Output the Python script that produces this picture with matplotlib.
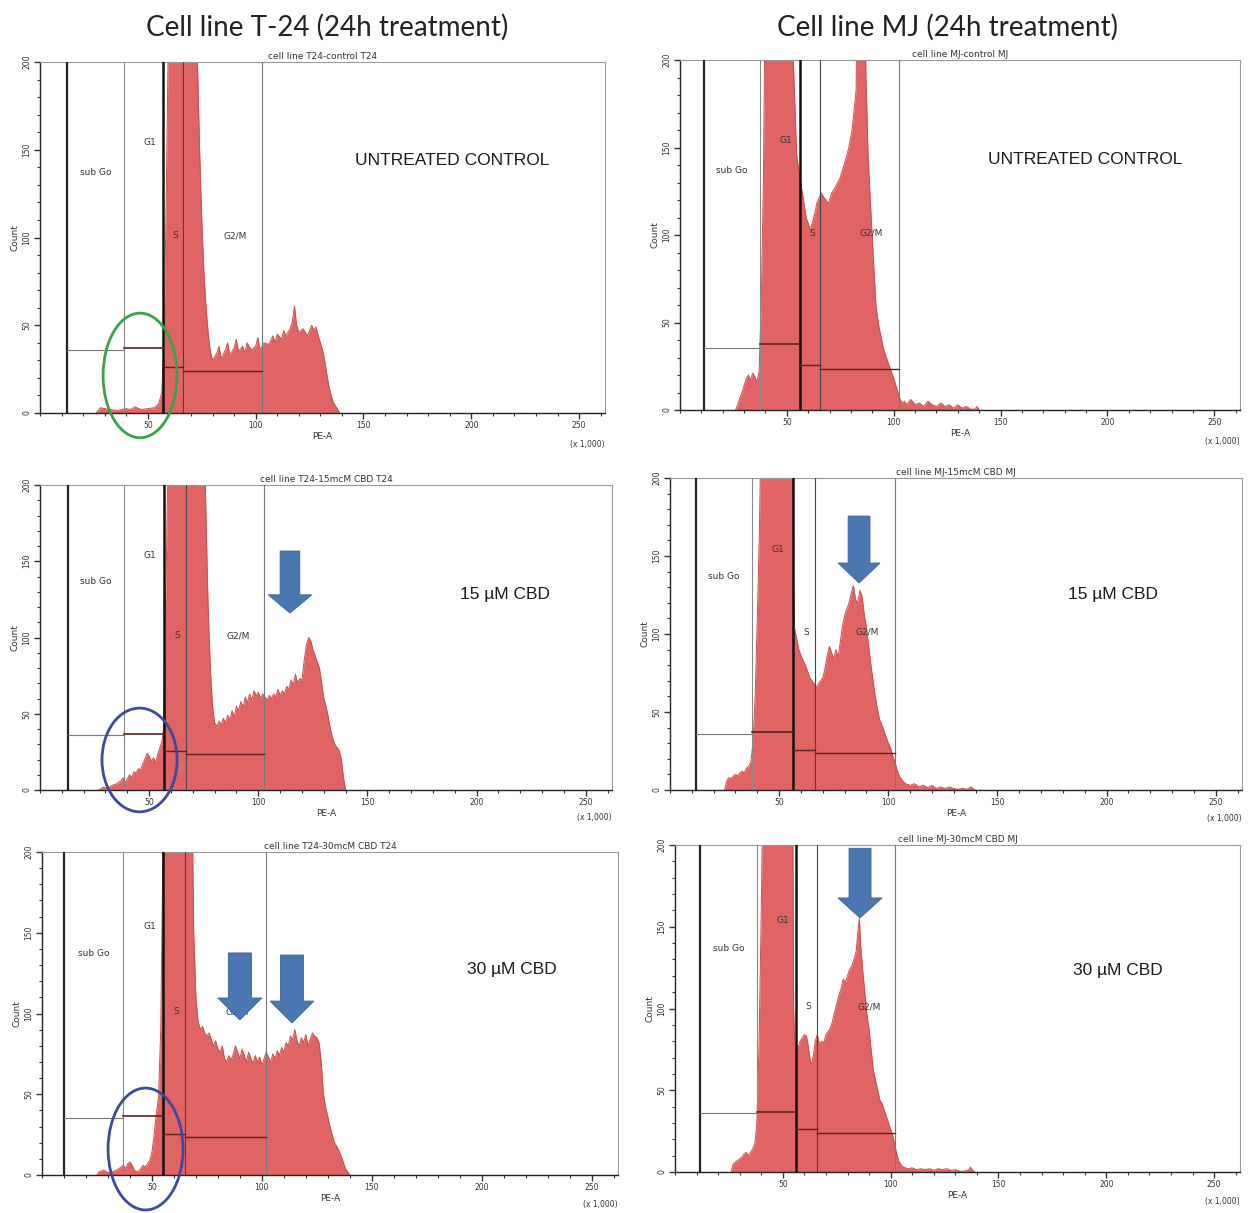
import matplotlib
matplotlib.use("Agg")
import matplotlib.pyplot as plt
from matplotlib.patches import Ellipse, FancyArrow
from matplotlib.ticker import MultipleLocator

# ---- data (PE-A x1000, count) ----
pe_t24_ctrl = [26, 28, 32, 36, 40, 42, 44, 47, 50, 53, 55, 56.5, 57.5, 58.5, 60, 72, 73, 74, 75, 76, 77, 78, 79, 80,
               82, 83, 84, 86, 87, 88, 90, 91, 92, 94, 95, 96, 98, 100, 101, 102, 104, 106, 108, 109, 110, 112, 113,
               114, 116, 117, 118, 119, 120, 122, 124, 126, 127, 128, 129, 130, 131, 132, 133, 134, 135, 136, 137,
               138, 139]
cnt_t24_ctrl = [0, 3, 2, 1.5, 2.5, 2, 3.5, 2, 2.5, 3, 5, 12, 40, 120, 260, 260, 200, 150, 110, 80, 60, 45, 35, 30,
                34, 38, 31, 36, 40, 33, 37, 42, 35, 38, 34, 40, 36, 38, 43, 36, 40, 39, 44, 40, 45, 42, 47,
                44, 48, 52, 61, 50, 46, 48, 44, 50, 47, 49, 44, 40, 36, 30, 22, 15, 10, 6, 4,
                2, 0]

pe_mj_ctrl = [26, 27, 28, 29, 30, 31, 32, 33, 34, 35, 36, 37, 38, 39, 40, 52, 53, 54.6, 56.5, 58, 59, 61, 63, 64,
              66, 67.6, 69.4, 71, 73, 75, 77, 79, 80.5, 82.4, 83, 86, 87, 88, 89, 90, 91.7, 93, 95, 96.5, 98, 99.5,
              101, 102, 103, 104, 105, 106, 108, 110, 112, 114, 116, 118, 120, 122, 124, 126, 128, 130, 132, 134,
              136, 138, 139, 140]
cnt_mj_ctrl = [0, 3, 7, 10, 14, 18, 20, 17, 21, 19, 16, 22, 60, 130, 260, 260, 200, 145, 130, 118, 110, 103, 112, 118,
               124, 121, 118, 124, 128, 133, 141, 150, 160, 183, 260, 260, 190, 145, 120, 97, 59, 48, 36, 30, 25, 20,
               14, 10, 6, 4, 5, 3, 6, 3, 4, 2, 5, 3, 2, 4, 2, 3, 1, 3, 1, 2,
               0.5, 0.5, 2, 0]

pe_t24_15 = [27, 29, 31, 33, 35, 37, 38, 39, 41, 42, 43, 44, 45, 46, 47, 48, 49, 50, 51, 52, 53, 54, 55, 56, 56.5,
             57, 58, 59, 75, 76, 77, 78, 79, 80, 81, 82, 83, 84, 85, 86, 87, 88, 89, 90, 91, 92, 93, 94, 95, 96, 97,
             98, 99, 100, 101, 102, 103, 104, 105, 106, 107, 108, 109, 110, 111, 112, 113, 114, 115, 116, 117, 118,
             119, 120, 121, 122, 123, 124, 125, 126, 127, 128, 129, 130, 131, 132, 133, 134, 135, 136, 137, 138,
             139, 140]
cnt_t24_15 = [0, 2, 1, 3, 4, 6, 8, 5, 10, 8, 12, 11, 14, 13, 17, 20, 24, 22, 19, 21, 18, 24, 28, 33, 40,
              80, 160, 260, 260, 180, 120, 80, 55, 44, 42, 45, 43, 47, 44, 49, 46, 52, 48, 55, 52, 58, 54, 61, 57, 63,
              59, 65, 62, 64, 60, 63, 61, 59, 62, 60, 63, 61, 66, 62, 65, 63, 68, 66, 72, 69, 76, 70,
              73, 72, 85, 95, 100, 98, 92, 88, 84, 80, 70, 60, 55, 48, 40, 34, 30, 28, 26, 20,
              8, 0]

pe_mj_15 = [25, 26, 27, 28, 29, 30, 31, 32, 33, 34, 35, 36, 37, 38, 39, 40, 41, 42, 56, 56.5, 57, 58, 59, 60, 61, 62,
            63, 64, 65, 66, 67, 68, 69, 70, 71, 72, 73, 74, 75, 76, 77, 78, 79, 80, 81, 82, 83, 84, 85, 86, 87, 88,
            89, 90, 91, 92, 93, 94, 95, 96, 97, 98, 99, 100, 101, 102, 103, 104, 105, 106, 107, 108, 110, 112, 114,
            116, 118, 120, 122, 124, 126, 128, 130, 132, 134, 136, 138, 139, 140]
cnt_mj_15 = [0, 6, 8, 7, 9, 10, 9, 11, 12, 11, 14, 15, 18, 30, 60, 110, 170, 260, 260, 140, 104, 97, 90, 86, 83, 80,
             76, 72, 70, 68, 66, 68, 70, 72, 78, 86, 92, 88, 84, 90, 85, 95, 105, 112, 116, 120, 126, 131, 122, 120,
             128, 124, 112, 104, 92, 80, 70, 60, 52, 45, 42, 38, 34, 30, 27, 22, 18, 13, 9, 7, 5, 4, 3, 4, 2,
             3, 1.5, 3, 1, 2, 1, 2, 1, 0.5, 1, 0.5, 2, 0.5, 0]

pe_t24_30 = [25, 26, 28, 30, 32, 34, 36, 37, 38, 39, 40, 41, 42, 43, 44, 45, 46, 47, 48, 49, 50, 51, 52, 53, 54, 55,
             56, 68, 69, 70, 71, 72, 73, 74, 75, 76, 77, 78, 79, 80, 81, 82, 83, 84, 85, 86, 87, 88, 89, 90, 91, 92,
             93, 94, 95, 96, 97, 98, 99, 100, 101, 102, 103, 104, 105, 106, 107, 108, 109, 110, 111, 112, 113, 114,
             115, 116, 117, 118, 119, 120, 121, 122, 123, 124, 125, 126, 127, 128, 129, 130, 131, 132, 133, 134,
             135, 136, 137, 138, 139, 140]
cnt_t24_30 = [0, 2, 3, 1.5, 2, 3, 5, 6, 4, 7, 8, 6, 3, 2, 2.5, 4, 6, 5, 7, 9, 14, 25, 38, 48, 90, 200,
              260, 260, 150, 110, 95, 90, 92, 88, 86, 88, 84, 80, 83, 78, 76, 80, 72, 70, 74, 71, 75, 80, 76, 72, 78,
              74, 70, 76, 72, 69, 74, 70, 73, 68, 72, 76, 73, 70, 75, 72, 77, 74, 79, 76, 82, 80, 86, 84,
              90, 83, 80, 85, 82, 87, 80, 84, 88, 86, 85, 82, 70, 50, 42, 36, 30, 25, 20, 18,
              15, 12, 8, 4, 2, 0]

pe_mj_30 = [26, 27, 28, 29, 30, 31, 32, 33, 34, 35, 36, 37, 38, 39, 40, 41, 54.5, 55, 55.5, 56, 57, 58, 59, 60, 61,
            62, 63, 64, 65, 66, 67, 68, 69, 70, 71, 72, 73, 74, 75, 76, 77, 78, 79, 80, 81, 82, 83, 84, 85, 85.5, 86,
            87, 88, 89, 90, 91, 92, 93, 94, 95, 96, 97, 98, 99, 100, 101, 102, 103, 104, 105, 106, 108, 110, 112,
            114, 116, 118, 120, 122, 124, 126, 128, 130, 132, 134, 136, 137, 138, 139]
cnt_mj_30 = [0, 5, 6, 7, 8, 9, 11, 12, 10, 12, 14, 17, 30, 80, 160, 260, 260, 100, 80, 78, 76, 80, 82, 84, 83,
             75, 65, 70, 80, 84, 78, 80, 79, 84, 86, 88, 92, 98, 103, 108, 112, 118, 116, 120, 124, 126, 130, 135,
             150, 155, 140, 124, 110, 96, 87, 74, 62, 56, 50, 44, 42, 38, 34, 30, 26, 22, 16, 10, 6, 4, 3, 2, 2.5,
             1.5, 2, 1.5, 2, 1, 2, 1.5, 2, 1, 1.5, 0.5, 0.5, 1, 3, 1, 0]

# gate boundaries: sub Go left, G1 left, S left, G2/M left, G2/M right
gates_t24_ctrl = [12.5, 39, 57, 66.5, 103]
gates_mj_ctrl = [11, 37.6, 56, 65.4, 102.4]
gates_t24_15 = [12.7, 38.5, 57, 66.7, 102.7]
gates_mj_15 = [12, 37.6, 56.4, 66.4, 103]
gates_t24_30 = [10, 37, 55, 65, 102]
gates_mj_30 = [11.8, 37.8, 56, 66, 102]
# gate marker heights: sub Go, G1, S, G2/M
levels_t24_ctrl = [36, 37, 26, 24]
levels_mj_ctrl = [35.5, 37.5, 25.5, 23.6]
levels_t24_15 = [36, 36.5, 25.4, 23.5]
levels_mj_15 = [36, 37, 25.5, 23.4]
levels_t24_30 = [35, 36.5, 25.6, 23.6]
levels_mj_30 = [36, 37, 26, 24]

titles = ["cell line T24-control T24", "cell line MJ-control MJ",
          "cell line T24-15mcM CBD T24", "cell line MJ-15mcM CBD MJ",
          "cell line T24-30mcM CBD T24", "cell line MJ-30mcM CBD MJ"]
conditions = ["UNTREATED CONTROL", "UNTREATED CONTROL", "15 µM CBD", "15 µM CBD", "30 µM CBD", "30 µM CBD"]

W, H = 1250, 1213
fig = plt.figure(figsize=(W / 100, H / 100), dpi=100)

# panel frames in pixels: left, top, right, bottom
frames = [(40, 62, 605, 413), (680, 60, 1240, 410),
          (40, 485, 612, 790), (670, 478, 1242, 790),
          (42, 852, 618, 1175), (675, 845, 1240, 1172)]

FILL = "#e06464"
EDGE = "#cf4c4c"
ARROW = "#4a76b2"


def hist_panel(ax, pe, cnt, gates, levels, title, cond, cond_xy):
    ax.fill_between(pe, 0, cnt, color=FILL, lw=0, zorder=1)
    ax.plot(pe, cnt, color=EDGE, lw=0.7, zorder=2)
    ax.set_xlim(0, 262)
    ax.set_ylim(0, 200)

    # gate lines
    a, b, c, d, e = gates
    ax.axvline(a, color="#222222", lw=1.6, zorder=3)
    ax.axvline(b, color="#888888", lw=0.8, zorder=3)
    ax.axvline(c, color="#111111", lw=1.8, zorder=3)
    ax.axvline(d, color="#444444", lw=0.8, zorder=3)
    ax.axvline(e, color="#777777", lw=0.8, zorder=3)
    ax.plot([a, b], [levels[0]] * 2, color="#777777", lw=0.8, zorder=3)
    ax.plot([b, c], [levels[1]] * 2, color="#5a2020", lw=1.2, zorder=3)
    ax.plot([c, d], [levels[2]] * 2, color="#5a2020", lw=1.0, zorder=3)
    ax.plot([d, e], [levels[3]] * 2, color="#5a2020", lw=1.0, zorder=3)

    lab = dict(fontsize=6.5, color="#333333", ha="center", va="center", zorder=4)
    ax.text((a + b) / 2, 137, "sub Go", **lab)
    ax.text(b + 12, 154, "G1", **lab)
    ax.text((c + d) / 2 + 1, 101, "S", **lab)
    ax.text(d + 24, 101, "G2/M", **lab)

    ax.text(cond_xy[0], cond_xy[1], cond, fontsize=12.5, family="Liberation Sans",
            ha="center", va="center", color="#1a1a1a")
    ax.set_title(title, fontsize=6.5, color="#333333", pad=2)

    ax.xaxis.set_major_locator(MultipleLocator(50))
    ax.xaxis.set_minor_locator(MultipleLocator(10))
    ax.yaxis.set_major_locator(MultipleLocator(50))
    ax.yaxis.set_minor_locator(MultipleLocator(10))
    ax.set_xticks([50, 100, 150, 200, 250])
    ax.tick_params(axis="both", which="major", labelsize=5.5, length=4, width=1.0,
                   colors="#333333", pad=2)
    ax.tick_params(axis="both", which="minor", length=2.5, width=0.8, colors="#333333")
    for lbl in ax.get_yticklabels():
        lbl.set_rotation(90)
        lbl.set_va("center")
    ax.set_xlabel("PE-A", fontsize=6.5, color="#333333", labelpad=1)
    ax.set_ylabel("Count", fontsize=6.5, color="#333333", labelpad=2)
    ax.text(1.0, -0.09, "(x 1,000)", transform=ax.transAxes, fontsize=5.5,
            color="#333333", ha="right", va="center")
    for side in ["top", "right"]:
        ax.spines[side].set_color("#999999")
        ax.spines[side].set_linewidth(0.8)
    for side in ["left", "bottom"]:
        ax.spines[side].set_color("#222222")
        ax.spines[side].set_linewidth(1.0)


panels = [
    (pe_t24_ctrl, cnt_t24_ctrl, gates_t24_ctrl, levels_t24_ctrl, (191, 144)),
    (pe_mj_ctrl, cnt_mj_ctrl, gates_mj_ctrl, levels_mj_ctrl, (189.5, 143)),
    (pe_t24_15, cnt_t24_15, gates_t24_15, levels_t24_15, (213, 128.5)),
    (pe_mj_15, cnt_mj_15, gates_mj_15, levels_mj_15, (203, 125.6)),
    (pe_t24_30, cnt_t24_30, gates_t24_30, levels_t24_30, (213.8, 127)),
    (pe_mj_30, cnt_mj_30, gates_mj_30, levels_mj_30, (205.4, 123.5)),
]

axes = []
for i, (fr, p) in enumerate(zip(frames, panels)):
    l, t, r, b = fr
    ax = fig.add_axes([l / W, 1 - b / H, (r - l) / W, (b - t) / H])
    hist_panel(ax, p[0], p[1], p[2], p[3], titles[i], conditions[i], p[4])
    axes.append(ax)

# circled sub-G0 region
axes[0].add_patch(Ellipse((46.4, 21.4), 34.3, 71, fill=False, ec="#3aa24a", lw=2, clip_on=False, zorder=6))
axes[2].add_patch(Ellipse((45.6, 19.7), 34.4, 68, fill=False, ec="#3d4a9c", lw=2, clip_on=False, zorder=6))
axes[4].add_patch(Ellipse((47.1, 16.1), 34.1, 75.5, fill=False, ec="#3d4a9c", lw=2, clip_on=False, zorder=6))


def down_arrow(ax, x, top, tip, body_w, head_w, head_len):
    ax.add_patch(FancyArrow(x, top, 0, tip - top, width=body_w, head_width=head_w,
                            head_length=head_len, length_includes_head=True,
                            fc=ARROW, ec="#3d6399", lw=0.6, zorder=7))


down_arrow(axes[2], 114.5, 156.7, 116, 9, 20, 12)
down_arrow(axes[3], 86.6, 175.6, 132.7, 10, 19.2, 12.8)
down_arrow(axes[4], 90, 137.5, 96, 10.5, 20, 13.6)
down_arrow(axes[4], 113.7, 136.2, 94.1, 10.5, 20, 13.6)
down_arrow(axes[5], 85.8, 198, 155.4, 10.2, 20.4, 12.2)

fig.text(327 / W, 1 - 27 / H, "Cell line T-24 (24h treatment)", fontsize=20, family="Lato",
         ha="center", va="center", color="#222222")
fig.text(947 / W, 1 - 27 / H, "Cell line MJ (24h treatment)", fontsize=20, family="Lato",
         ha="center", va="center", color="#222222")

fig.savefig("out.png", dpi=100)
